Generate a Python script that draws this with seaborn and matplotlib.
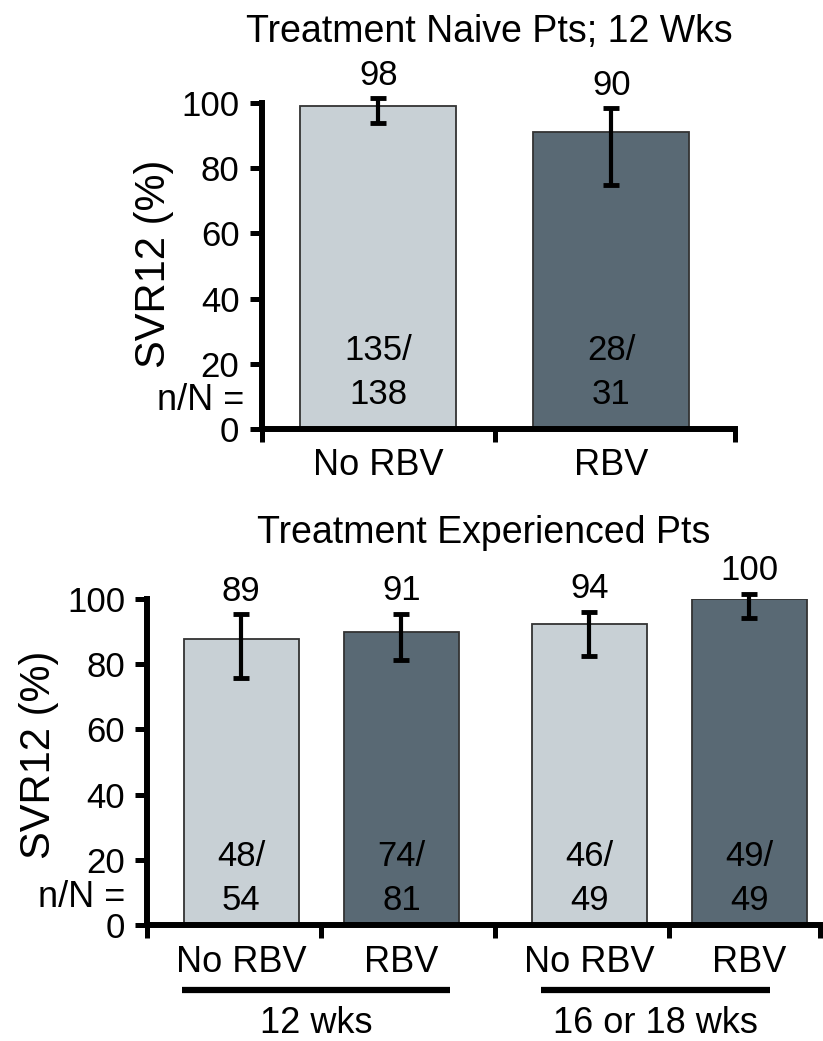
import matplotlib
matplotlib.use("Agg")
import matplotlib.pyplot as plt
import matplotlib.transforms as mtransforms
import numpy as np
import pandas as pd
import seaborn as sns

# Top panel: treatment naive, 12 weeks
naive_regimen = ["No RBV", "RBV"]
naive_svr = [99, 91]
naive_err_low = [94, 75]
naive_err_high = [101.5, 98.5]
naive_labels = ["98", "90"]
naive_n = ["135/", "28/"]
naive_N = ["138", "31"]

# Bottom panel: treatment experienced
exp_duration = ["12 wks", "12 wks", "16 or 18 wks", "16 or 18 wks"]
exp_regimen = ["No RBV", "RBV", "No RBV", "RBV"]
exp_svr = [87.6, 89.8, 92.2, 100]
exp_err_low = [75.7, 81.3, 82.3, 94.2]
exp_err_high = [95.2, 95.4, 96.0, 101.5]
exp_labels = ["89", "91", "94", "100"]
exp_n = ["48/", "74/", "46/", "49/"]
exp_N = ["54", "81", "49", "49"]

palette = {"No RBV": "#c6d1d7", "RBV": "#546a78"}

sns.set_style("ticks")
plt.rcParams["font.family"] = ["Liberation Sans", "DejaVu Sans"]
plt.rcParams.update({"text.color": "black", "axes.labelcolor": "black",
                     "xtick.color": "black", "ytick.color": "black"})

LW = 4.3
FS = 25

fig = plt.figure(figsize=(8.23, 10.41), dpi=100)
ax1 = fig.add_axes([0.318, 0.588, 0.575, 0.313])
ax2 = fig.add_axes([0.179, 0.111, 0.817, 0.314])

naive_df = pd.DataFrame({"regimen": naive_regimen, "svr": naive_svr})
exp_df = pd.DataFrame({"duration": exp_duration, "regimen": exp_regimen, "svr": exp_svr})

sns.barplot(data=naive_df, x="regimen", y="svr", hue="regimen", palette=palette,
            width=0.67, edgecolor="#333333", linewidth=1.3, errorbar=None,
            legend=False, ax=ax1)
sns.barplot(data=exp_df, x="duration", y="svr", hue="regimen", palette=palette,
            width=0.92, gap=0.28, edgecolor="#333333", linewidth=1.3, errorbar=None,
            legend=False, ax=ax2)


def decorate(ax, svr, lows, highs, labels, n_top, n_bot, y_top, y_bot, xlim, ticks,
             ylab_pos, nn_offset):
    bars = sorted(ax.patches, key=lambda p: p.get_x())
    xs = np.array([p.get_x() + p.get_width() / 2 for p in bars])
    svr = np.asarray(svr, float)
    lows = np.asarray(lows, float)
    highs = np.asarray(highs, float)
    ax.errorbar(xs, svr, yerr=[svr - lows, highs - svr], fmt="none", ecolor="black",
                elinewidth=3, capsize=6, capthick=3.5, clip_on=False, zorder=5)
    for x, h, lab, a, b in zip(xs, highs, labels, n_top, n_bot):
        ax.text(x, h + 7, lab, ha="center", va="center", fontsize=FS, clip_on=False)
        ax.text(x, y_top, a, ha="center", va="center", fontsize=FS)
        ax.text(x, y_bot, b, ha="center", va="center", fontsize=FS)

    ax.set_ylim(0, 100)
    ax.set_xlim(*xlim)
    ax.set_yticks([0, 20, 40, 60, 80, 100])
    ax.set_xticks(ticks)
    ax.set_xticklabels([])
    ax.set_xticks(xs, minor=True)
    ax.tick_params(axis="both", which="major", direction="out", length=9, width=3.6,
                   labelsize=FS, pad=3)
    ax.tick_params(axis="y", which="major", pad=7)
    ax.tick_params(axis="x", which="minor", length=0, labelsize=26, pad=14)
    for s in ["top", "right"]:
        ax.spines[s].set_visible(False)
    for s in ["left", "bottom"]:
        ax.spines[s].set_linewidth(LW)
        ax.spines[s].set_color("black")
    ax.set_xlabel("")
    ax.set_ylabel("SVR12 (%)", fontsize=30)
    ax.yaxis.set_label_coords(*ylab_pos)
    trans = mtransforms.blended_transform_factory(ax.transAxes, ax.transData)
    ax.annotate("n/N =", xy=(0, 8.7), xycoords=trans, xytext=(nn_offset, 0),
                textcoords="offset points", ha="right", va="center", fontsize=26)
    return xs


xs1 = decorate(ax1, naive_svr, naive_err_low, naive_err_high, naive_labels,
               naive_n, naive_N, 24, 10.5, (-0.5, 1.53), [-0.5, 0.5, 1.53],
               (-0.186, 0.506), -12.5)
ax1.set_xticklabels(naive_regimen, minor=True)
ax1.set_title("Treatment Naive Pts; 12 Wks", fontsize=27, x=0.482, pad=44)

xs2 = decorate(ax2, exp_svr, exp_err_low, exp_err_high, exp_labels,
               exp_n, exp_N, 21, 7.5, (-0.5, 1.432), [-0.5, 0, 0.5, 1, 1.432],
               (-0.131, 0.523), -16)
ax2.set_xticklabels(exp_regimen, minor=True)
ax2.set_title("Treatment Experienced Pts", fontsize=27, x=0.5, pad=40)

# group brackets under the bottom panel
gtrans = mtransforms.blended_transform_factory(ax2.transData, ax2.transAxes)
group_names = ["12 wks", "16 or 18 wks"]
group_spans = [(-0.40, 0.37), (0.63, 1.29)]
for name, (a, b) in zip(group_names, group_spans):
    ax2.plot([a, b], [-0.196, -0.196], color="black", lw=4.5, transform=gtrans,
             clip_on=False, solid_capstyle="butt")
    ax2.text((a + b) / 2, -0.300, name, ha="center", va="center", fontsize=26,
             transform=gtrans)

fig.savefig("out.png", dpi=100)
plt.close(fig)
